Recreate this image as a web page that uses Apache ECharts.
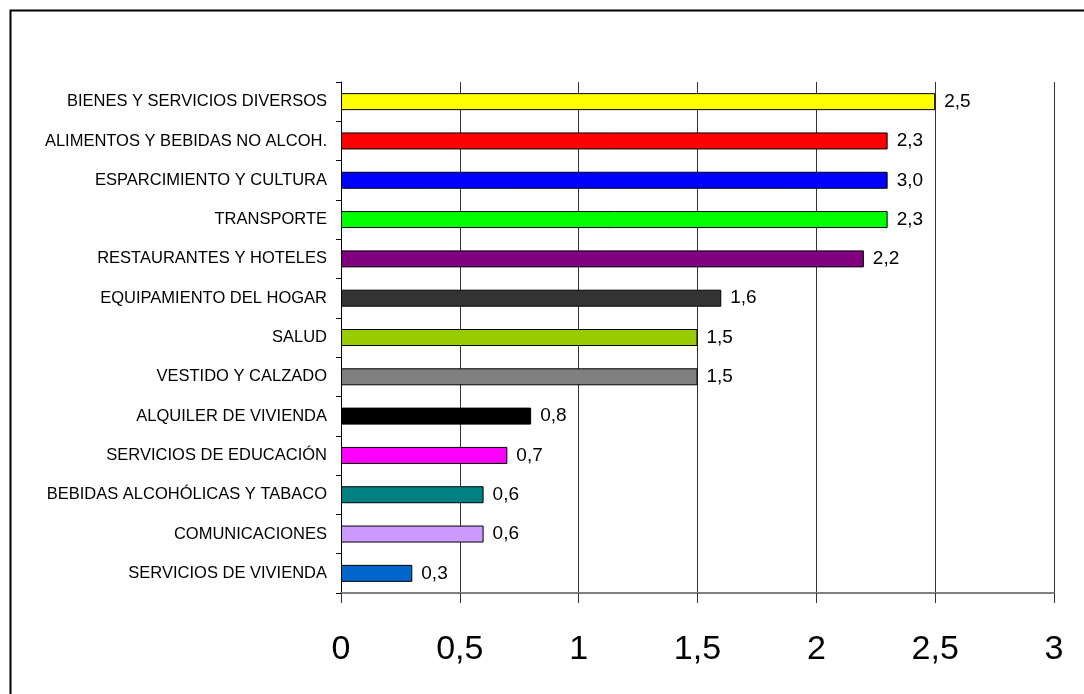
<!DOCTYPE html>
<html>
<head>
<meta charset="utf-8">
<script src="https://cdn.jsdelivr.net/npm/echarts@6/dist/echarts.min.js"></script>
<style>
  html, body { margin: 0; padding: 0; background: #fff; }
  #chart { width: 1084px; height: 694px; }
</style>
</head>
<body>
<div id="chart"></div>
<script>
// Categorías (de arriba hacia abajo)
const categories = [
    'BIENES Y SERVICIOS DIVERSOS',
    'ALIMENTOS Y BEBIDAS NO ALCOH.',
    'ESPARCIMIENTO Y CULTURA',
    'TRANSPORTE',
    'RESTAURANTES Y HOTELES',
    'EQUIPAMIENTO DEL HOGAR',
    'SALUD',
    'VESTIDO Y CALZADO',
    'ALQUILER DE VIVIENDA',
    'SERVICIOS DE EDUCACIÓN',
    'BEBIDAS ALCOHÓLICAS Y TABACO',
    'COMUNICACIONES',
    'SERVICIOS DE VIVIENDA'
];

// Largo de cada barra
const values = [2.5, 2.3, 2.3, 2.3, 2.2, 1.6, 1.5, 1.5, 0.8, 0.7, 0.6, 0.6, 0.3];

// Etiquetas tal como aparecen en el gráfico
const valueLabels = ['2,5', '2,3', '3,0', '2,3', '2,2', '1,6', '1,5', '1,5', '0,8', '0,7', '0,6', '0,6', '0,3'];

// Colores de las barras
const barColors = ['#ffff00', '#ff0000', '#0000ff', '#00ff00', '#800080', '#333333',
    '#99cc00', '#808080', '#000000', '#ff00ff', '#008080', '#cc99ff', '#0066cc'];

const chart = echarts.init(document.getElementById('chart'));

const option = {
    animation: false,
    textStyle: { fontFamily: 'Liberation Sans, Arial, sans-serif' },
    graphic: [
        {
            type: 'rect',
            left: 8, top: 8,
            shape: { width: 1100, height: 720 },
            style: { fill: 'none', stroke: '#000', lineWidth: 2 },
            z: 0
        }
    ],
    grid: { left: 341, right: 30, top: 82, bottom: 101 },
    xAxis: {
        type: 'value',
        min: 0,
        max: 3,
        interval: 0.5,
        axisLine: { show: true, lineStyle: { color: '#808080', width: 2 } },
        axisTick: { show: true, length: 10, lineStyle: { color: '#333' } },
        splitLine: { show: true, lineStyle: { color: '#333', width: 1 } },
        axisLabel: {
            fontSize: 34,
            color: '#000',
            margin: 40,
            formatter: v => String(v).replace('.', ',')
        }
    },
    yAxis: {
        type: 'category',
        inverse: true,
        data: categories,
        axisLine: { show: true, lineStyle: { color: '#000', width: 1 } },
        axisTick: { show: true, length: 5, lineStyle: { color: '#000' } },
        axisLabel: { fontSize: 16.5, color: '#000', margin: 14 }
    },
    series: [
        {
            type: 'bar',
            barWidth: 17,
            data: values.map((v, i) => ({
                value: v,
                itemStyle: { color: barColors[i], borderColor: '#000', borderWidth: 1 }
            })),
            label: {
                show: true,
                position: 'right',
                distance: 9,
                fontSize: 19,
                color: '#000',
                formatter: p => valueLabels[p.dataIndex]
            }
        }
    ]
};

chart.setOption(option);
</script>
</body>
</html>
